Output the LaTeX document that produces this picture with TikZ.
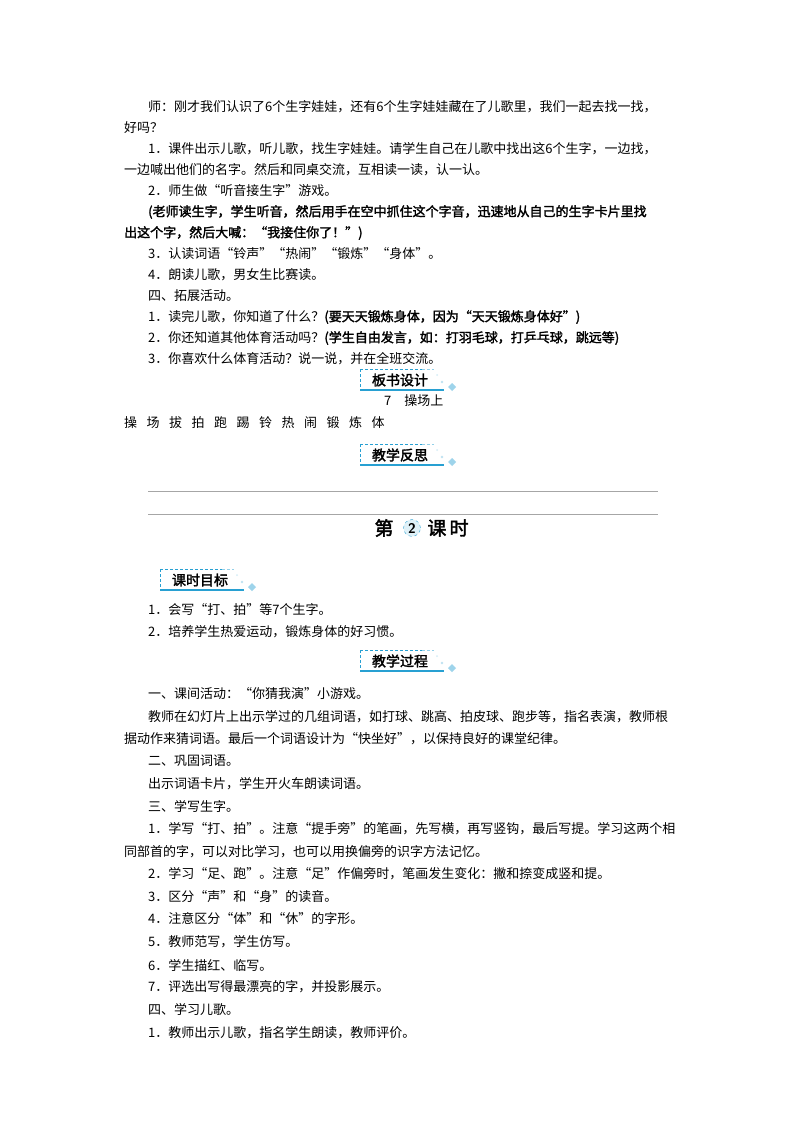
\documentclass[tikz,border=0pt]{standalone}
\usepackage{fontspec}
\setmainfont{Noto Sans CJK SC}
\newfontfamily\cjkb{Noto Sans CJK SC}[FakeBold=2]
\definecolor{bl}{RGB}{40,160,210}
\tikzset{tx/.style={anchor=west,inner sep=0pt,font=\fontsize{13}{15}\selectfont},
 bd/.style={anchor=center,inner sep=0pt,font=\fontsize{14}{15}\selectfont\cjkb}}
\newcommand{\Ln}[4]{\node[tx] (#1) at (#2,#3) {#4};}
\newcommand{\Gp}{\hspace{9.5pt}}
\newcommand{\Badge}[4]{%
 \node[bd] (#1) at (#2,#3) {#4};
 \begin{scope}[shift={(#1.center)}]
 \draw[bl,dashed,dash pattern=on 3pt off 2pt,line width=0.9pt] (-40,-11) -- (22,-11);
 \draw[bl!50,dashed,dash pattern=on 3pt off 2pt,line width=0.7pt] (22,-11) -- (34,-11);
 \draw[bl,dashed,dash pattern=on 3pt off 2pt,line width=0.9pt] (-40,-11) -- (-40,8);
 \draw[bl,line width=1.6pt] (-40,10) -- (44,10);
 \fill[bl!45] (48,7) -- (52,3) -- (56,7) -- (52,11) -- cycle;
 \fill[bl!30] (42,2) circle (1.4pt);
 \fill[bl!20] (37,-5) circle (1pt);
 \end{scope}}
\begin{document}
\begin{tikzpicture}[x=1pt,y=-1pt]
\useasboundingbox (0,0) rectangle (800,1132);
\fill[white] (0,0) rectangle (800,1132);
\Ln{a1}{148}{107}{师：刚才我们认识了6个生字娃娃，还有6个生字娃娃藏在了儿歌里，我们一起去找一找，}
\Ln{a2}{124}{128}{好吗？}
\Ln{a3}{148}{149}{1．课件出示儿歌，听儿歌，找生字娃娃。请学生自己在儿歌中找出这6个生字，一边找，}
\Ln{a4}{124}{170}{一边喊出他们的名字。然后和同桌交流，互相读一读，认一认。}
\Ln{a5}{148}{191}{2．师生做“听音接生字”游戏。}
\Ln{a6}{148}{212}{\cjkb (老师读生字，学生听音，然后用手在空中抓住这个字音，迅速地从自己的生字卡片里找}
\Ln{a7}{124}{233}{\cjkb 出这个字，然后大喊：“我接住你了！”)}
\Ln{a8}{148}{254}{3．认读词语“铃声”“热闹”“锻炼”“身体”。}
\Ln{a9}{148}{275}{4．朗读儿歌，男女生比赛读。}
\Ln{a10}{148}{296}{四、拓展活动。}
\Ln{a11}{148}{317}{1．读完儿歌，你知道了什么？{\cjkb (要天天锻炼身体，因为“天天锻炼身体好”)}}
\Ln{a12}{148}{338}{2．你还知道其他体育活动吗？{\cjkb (学生自由发言，如：打羽毛球，打乒乓球，跳远等)}}
\Ln{a13}{148}{359}{3．你喜欢什么体育活动？说一说，并在全班交流。}
\Badge{b1}{400}{380}{板书设计}
\Ln{a14}{384}{401}{7\quad 操场上}
\Ln{a15}{124}{423}{操\Gp 场\Gp 拔\Gp 拍\Gp 跑\Gp 踢\Gp 铃\Gp 热\Gp 闹\Gp 锻\Gp 炼\Gp 体}
\Badge{b2}{400}{455}{教学反思}
\coordinate (r1a) at (148,491); \coordinate (r1b) at (658,491);
\coordinate (r2a) at (148,514); \coordinate (r2b) at (658,514);
\draw[gray!70,line width=0.8pt] (r1a) -- (r1b);
\draw[gray!70,line width=0.8pt] (r2a) -- (r2b);
\node[inner sep=0pt,font=\fontsize{19}{20}\selectfont\cjkb] (t1) at (384,528) {第};
\node[circle,draw=bl,dashed,fill=bl!15,inner sep=1.5pt,font=\fontsize{14}{14}\selectfont\bfseries\sffamily] (t2) at (412,528) {2};
\node[inner sep=0pt,font=\fontsize{19}{20}\selectfont\cjkb] (t3) at (448,528) {课\,时};
\Badge{b3}{200}{580}{课时目标}
\Ln{a16}{148}{610}{1．会写“打、拍”等7个生字。}
\Ln{a17}{148}{632}{2．培养学生热爱运动，锻炼身体的好习惯。}
\Badge{b4}{400}{661}{教学过程}
\Ln{a18}{148}{694}{一、课间活动：“你猜我演”小游戏。}
\Ln{a19}{148}{717}{教师在幻灯片上出示学过的几组词语，如打球、跳高、拍皮球、跑步等，指名表演，教师根}
\Ln{a20}{124}{739}{据动作来猜词语。最后一个词语设计为“快坐好”，以保持良好的课堂纪律。}
\Ln{a21}{148}{761}{二、巩固词语。}
\Ln{a22}{148}{784}{出示词语卡片，学生开火车朗读词语。}
\Ln{a23}{148}{806}{三、学写生字。}
\Ln{a24}{148}{829}{1．学写“打、拍”。注意“提手旁”的笔画，先写横，再写竖钩，最后写提。学习这两个相}
\Ln{a25}{124}{852}{同部首的字，可以对比学习，也可以用换偏旁的识字方法记忆。}
\Ln{a26}{148}{874}{2．学习“足、跑”。注意“足”作偏旁时，笔画发生变化：撇和捺变成竖和提。}
\Ln{a27}{148}{897}{3．区分“声”和“身”的读音。}
\Ln{a28}{148}{919}{4．注意区分“体”和“休”的字形。}
\Ln{a29}{148}{942}{5．教师范写，学生仿写。}
\Ln{a30}{148}{965}{6．学生描红、临写。}
\Ln{a31}{148}{987}{7．评选出写得最漂亮的字，并投影展示。}
\Ln{a32}{148}{1010}{四、学习儿歌。}
\Ln{a33}{148}{1033}{1．教师出示儿歌，指名学生朗读，教师评价。}
\end{tikzpicture}
\end{document}
